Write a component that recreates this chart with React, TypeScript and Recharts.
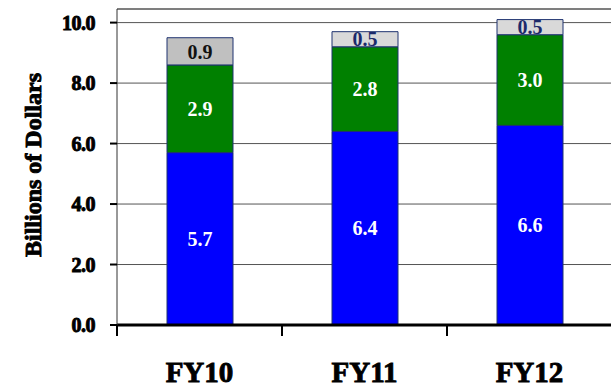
import { BarChart, Bar, XAxis, YAxis, CartesianGrid, ReferenceLine, LabelList, Cell } from "recharts";

const years = ["FY10", "FY11", "FY12"];
const baseValues = [5.7, 6.4, 6.6];
const middleValues = [2.9, 2.8, 3.0];
const topValues = [0.9, 0.5, 0.5];
const yTicks = [0, 2, 4, 6, 8, 10];

const data = years.map((year, i) => ({
  year,
  base: baseValues[i],
  middle: middleValues[i],
  top: topValues[i],
}));

// chart geometry
const CHART_W = 613;
const CHART_H = 387;
const MARGIN = { top: 9, right: 1, bottom: 0, left: 0 };
const Y_AXIS_W = 117;
const X_AXIS_H = 62;
const Y_MAX = 10.45;
const BAND = (CHART_W - MARGIN.left - MARGIN.right - Y_AXIS_W) / years.length;

const serif = { fontFamily: "Liberation Serif", fontWeight: 700 } as const;
// heavier look for the axis text
const heavy = { stroke: "#000", strokeWidth: 0.9, paintOrder: "stroke" } as const;
const BAR_STROKE = "#1f3370";
const topFills = ["#c0c0c0", "#d9d9d9", "#d9d9d9"];
const topLabelColors = ["#111111", "#1c2a6b", "#1c2a6b"];

const segmentLabel = (colors: string[]) => (props: any) => {
  const { x, y, width, height, value, index } = props;
  return (
    <text
      x={x + width / 2}
      y={y + height / 2}
      dy="0.36em"
      textAnchor="middle"
      fill={colors[index] ?? colors[0]}
      style={{ ...serif, fontSize: 20 }}
    >
      {Number(value).toFixed(1)}
    </text>
  );
};

// category ticks sit on the band edges, label in the middle
function YearTick(props: any) {
  const { x, y, payload } = props;
  const idx = props.index ?? payload.index ?? 0;
  const half = BAND / 2;
  return (
    <g>
      <line x1={x - half} x2={x - half} y1={y} y2={y + 11} stroke="#000" strokeWidth={2} />
      {idx === years.length - 1 && (
        <line x1={x + half} x2={x + half} y1={y} y2={y + 11} stroke="#000" strokeWidth={2} />
      )}
      <text x={x} y={y + 57} textAnchor="middle" fill="#000" style={{ ...serif, ...heavy, fontSize: 29 }}>
        {payload.value}
      </text>
    </g>
  );
}

function ValueTick(props: any) {
  const { x, y, payload } = props;
  return (
    <text
      x={x}
      y={y}
      dy="0.36em"
      textAnchor="end"
      fill="#000"
      style={{ ...serif, ...heavy, fontSize: 20, letterSpacing: -0.5 }}
    >
      {Number(payload.value).toFixed(1)}
    </text>
  );
}

function YLabel(props: any) {
  const { viewBox } = props;
  const cx = viewBox.x + 33;
  const cy = viewBox.y + viewBox.height / 2 - 2;
  return (
    <text
      x={cx}
      y={cy}
      transform={`rotate(-90 ${cx} ${cy})`}
      textAnchor="middle"
      dominantBaseline="central"
      fill="#000"
      style={{ ...serif, ...heavy, fontSize: 24 }}
    >
      Billions of Dollars
    </text>
  );
}

export default function App() {
  return (
    <div
      style={{
        position: "absolute",
        left: 0,
        top: 0,
        width: 611,
        height: 387,
        overflow: "hidden",
        background: "#fff",
      }}
    >
      <BarChart width={CHART_W} height={CHART_H} data={data} margin={MARGIN} barSize={66}>
        <CartesianGrid vertical={false} stroke="#555" />
        <ReferenceLine y={Y_MAX} stroke="#555" />
        <XAxis
          dataKey="year"
          height={X_AXIS_H}
          interval={0}
          axisLine={{ stroke: "#000", strokeWidth: 3 }}
          tickLine={false}
          tickSize={0}
          tickMargin={0}
          tick={YearTick}
        />
        <YAxis
          width={Y_AXIS_W}
          domain={[0, Y_MAX]}
          ticks={yTicks}
          interval={0}
          axisLine={{ stroke: "#333", strokeWidth: 1 }}
          tickLine={{ stroke: "#000", strokeWidth: 2 }}
          tickSize={7}
          tickMargin={15}
          tick={ValueTick}
          label={{ content: YLabel }}
        />
        <Bar dataKey="base" stackId="a" fill="#0000ff" stroke={BAR_STROKE} strokeWidth={1} isAnimationActive={false}>
          <LabelList dataKey="base" content={segmentLabel(["#ffffff"])} />
        </Bar>
        <Bar dataKey="middle" stackId="a" fill="#008000" stroke={BAR_STROKE} strokeWidth={1} isAnimationActive={false}>
          <LabelList dataKey="middle" content={segmentLabel(["#ffffff"])} />
        </Bar>
        <Bar dataKey="top" stackId="a" stroke={BAR_STROKE} strokeWidth={1} isAnimationActive={false}>
          {years.map((y, i) => (
            <Cell key={y} fill={topFills[i]} />
          ))}
          <LabelList dataKey="top" content={segmentLabel(topLabelColors)} />
        </Bar>
      </BarChart>
    </div>
  );
}
